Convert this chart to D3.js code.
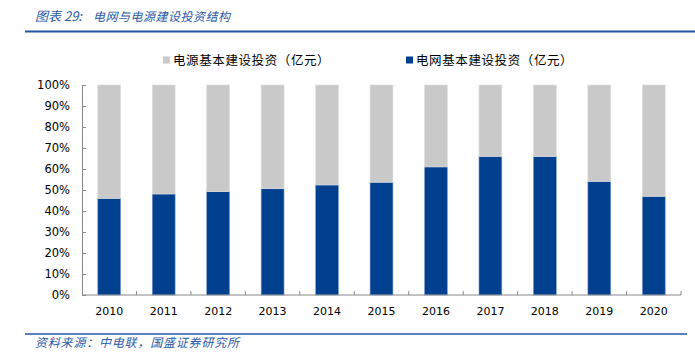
<!DOCTYPE html>
<html>
<head>
<meta charset="utf-8">
<script src="https://cdn.jsdelivr.net/npm/d3@7"></script>
<style>
  html, body { margin: 0; padding: 0; background: #fff; }
  svg { display: block; }
</style>
</head>
<body>
<svg id="chart" width="695" height="355"></svg>
<script>
// ---- data ----
const years = ["2010","2011","2012","2013","2014","2015","2016","2017","2018","2019","2020"];
const gridShare  = [46.0, 48.1, 49.2, 50.6, 52.4, 53.7, 61.0, 66.0, 65.9, 54.1, 47.0]; // 电网基本建设投资 share %
const powerShare = [54.0, 51.9, 50.8, 49.4, 47.6, 46.3, 39.0, 34.0, 34.1, 45.9, 53.0]; // 电源基本建设投资 share %
const yTicks = [0, 10, 20, 30, 40, 50, 60, 70, 80, 90, 100];
const seriesNames = ["电源基本建设投资（亿元）", "电网基本建设投资（亿元）"];
const titleLabel = "图表 29:";
const titleText = "电网与电源建设投资结构";
const sourceText = "资料来源：中电联，国盛证券研究所";

const colGrid = "#00408F", colPower = "#C9C9C9", colBrand = "#1F56A6";

const svg = d3.select("#chart");
const cjk = "'Noto Sans CJK SC', sans-serif";

// title
svg.append("text").attr("x", 35).attr("y", 21)
  .attr("font-family", cjk).attr("font-size", 13).attr("font-style", "italic")
  .attr("fill", "#2A5AA8").text(titleLabel);
svg.append("text").attr("x", 93).attr("y", 21)
  .attr("font-family", cjk).attr("font-size", 12).attr("font-style", "italic")
  .attr("fill", "#2A5AA8").attr("letter-spacing", 0.5).text(titleText);
svg.append("line").attr("x1", 25).attr("x2", 695).attr("y1", 31.5).attr("y2", 31.5)
  .attr("stroke", colBrand).attr("stroke-width", 2);

// layout
const x0 = 82, x1 = 681, y0 = 295, y1 = 85;
const x = d3.scaleBand().domain(years).range([x0, x1]).paddingInner(0.58).paddingOuter(0.29);
const y = d3.scaleLinear().domain([0, 100]).range([y0, y1]);

// stacked data
const rows = years.map((yr, i) => ({ year: yr, grid: gridShare[i], power: powerShare[i] }));
const stack = d3.stack().keys(["grid", "power"])(rows);
const colors = { grid: colGrid, power: colPower };
const edges = { grid: "#7f9fcf", power: "#dedede" };

svg.append("g").selectAll("g").data(stack).join("g")
  .attr("fill", d => colors[d.key])
  .attr("stroke", d => edges[d.key])
  .attr("stroke-width", 0.6)
  .selectAll("rect").data(d => d).join("rect")
  .attr("x", d => x(d.data.year))
  .attr("width", x.bandwidth())
  .attr("y", d => y(d[1]))
  .attr("height", d => y(d[0]) - y(d[1]));

// y axis
const yAxis = d3.axisLeft(y).tickValues(yTicks).tickFormat(d => d + "%")
  .tickSizeInner(-4).tickSizeOuter(0).tickPadding(12);
const gy = svg.append("g").attr("transform", `translate(${x0},0)`).call(yAxis);
gy.select(".domain").attr("stroke", "#888");
gy.selectAll(".tick line").attr("stroke", "#888");
gy.selectAll("text").attr("font-family", "'DejaVu Sans', sans-serif").attr("font-size", 11.5).attr("fill", "#000");

// x axis
const xAxis = d3.axisBottom(x).tickSize(0).tickPadding(12);
const gx = svg.append("g").attr("transform", `translate(0,${y0})`).call(xAxis);
gx.select(".domain").attr("stroke", "#888").attr("d", `M${x0},0H${x1}`);
gx.selectAll("text").attr("font-family", "'DejaVu Sans', sans-serif").attr("font-size", 11).attr("fill", "#000");
const bounds = d3.range(1, years.length + 1).map(i => x0 + i * x.step());
gx.selectAll(".sep").data(bounds).join("line").attr("class", "sep")
  .attr("x1", d => d).attr("x2", d => d).attr("y1", 0).attr("y2", -4).attr("stroke", "#888");

// legend
const legendX = [163, 406];
const legendCols = [colPower, colGrid];
const lg = svg.append("g").selectAll("g").data(seriesNames).join("g")
  .attr("transform", (d, i) => `translate(${legendX[i]},60)`);
lg.append("rect").attr("x", 0).attr("y", -3.5).attr("width", 7).attr("height", 7).attr("fill", (d, i) => legendCols[i]);
lg.append("text").attr("x", 10).attr("y", 4.5).attr("font-family", cjk).attr("font-size", 12.5)
  .attr("letter-spacing", 0.6).attr("fill", "#000").text(d => d);

// footer
svg.append("line").attr("x1", 25).attr("x2", 687).attr("y1", 334).attr("y2", 334)
  .attr("stroke", colBrand).attr("stroke-width", 1.5);
svg.append("text").attr("x", 35).attr("y", 347)
  .attr("font-family", cjk).attr("font-size", 12).attr("font-style", "italic")
  .attr("fill", "#2A5AA8").attr("letter-spacing", 0.8).text(sourceText);
</script>
</body>
</html>
